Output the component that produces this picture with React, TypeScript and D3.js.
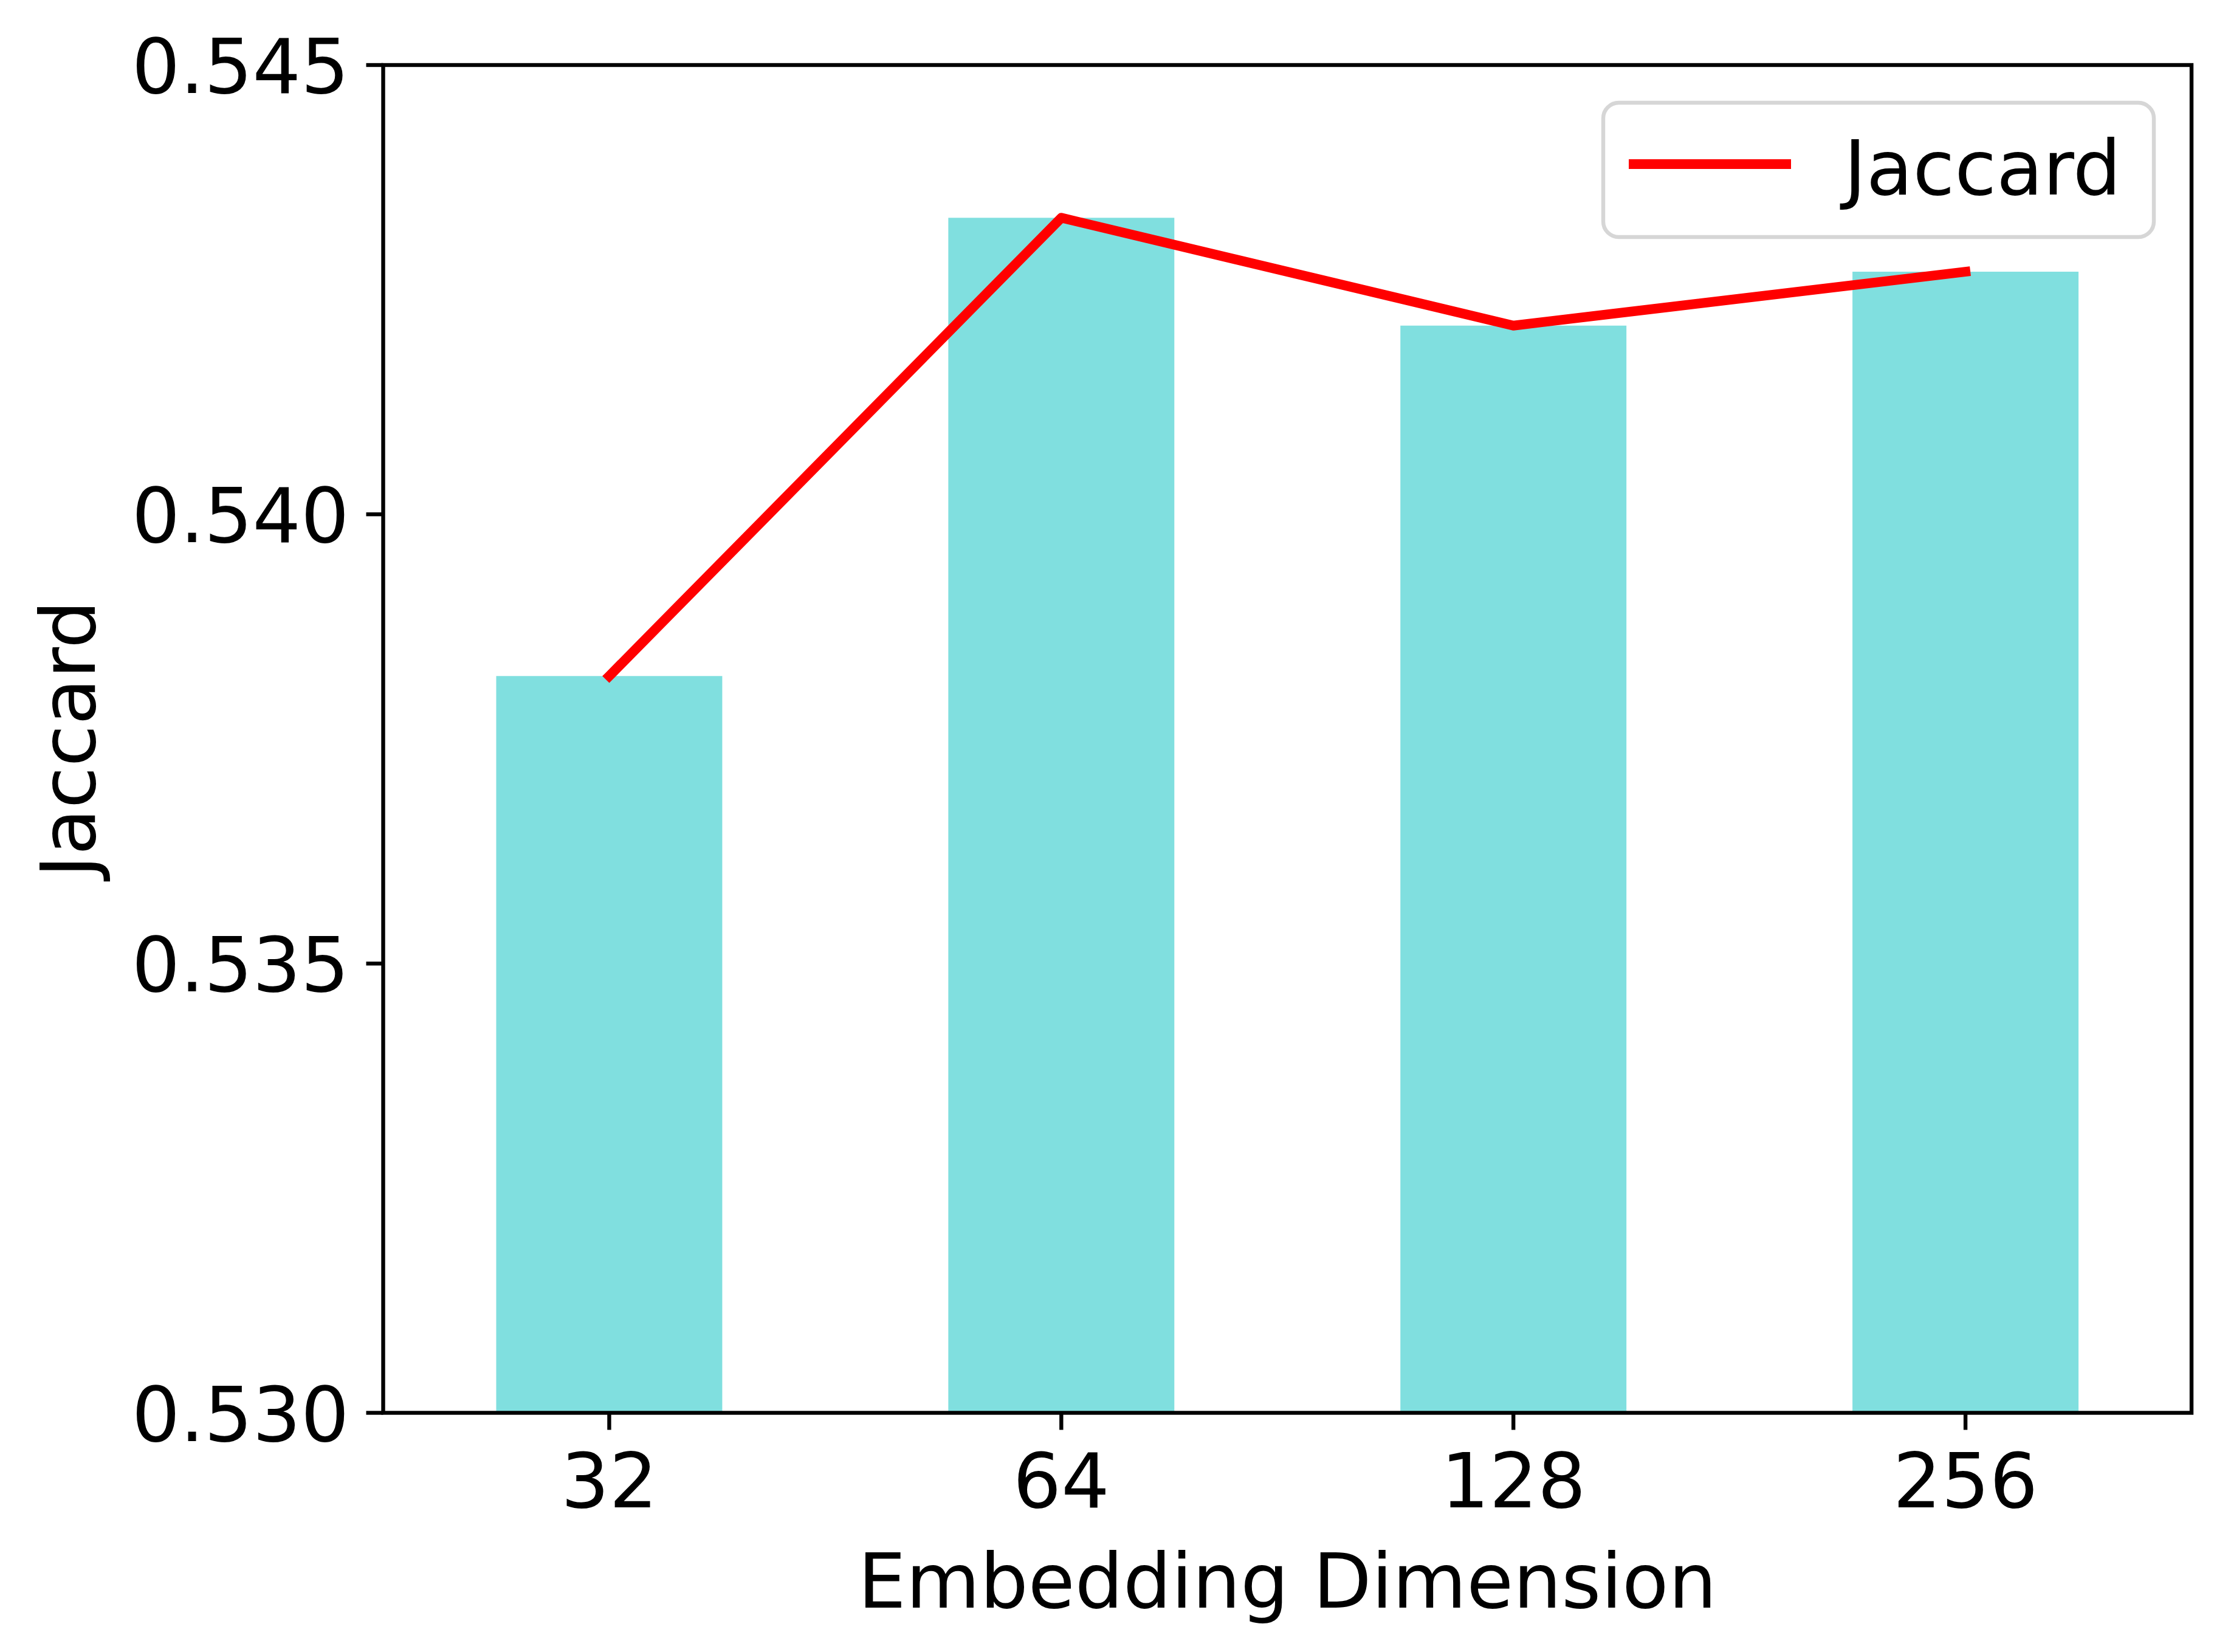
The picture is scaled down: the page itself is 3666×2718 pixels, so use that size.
import React from "react";
import * as d3 from "d3";

// embedding dimension vs jaccard score
const dims = ["32", "64", "128", "256"];
const jaccard = [0.5382, 0.5433, 0.5421, 0.5427];
const yTicks = [0.53, 0.535, 0.54, 0.545];
const legendLabel = "Jaccard";

const W = 3666;
const H = 2718;
const margin = { top: 107, right: 60, bottom: 393.5, left: 630.5 };
const FONT = "'DejaVu Sans', sans-serif";
const FS = 125;

const App: React.FC = () => {
	const x0 = margin.left;
	const x1 = W - margin.right;
	const yTop = margin.top;
	const yBot = H - margin.bottom;

	const xScale = d3.scaleBand<string>().domain(dims).range([x0, x1]).paddingInner(0.5).paddingOuter(0.25);
	const yScale = d3.scaleLinear().domain([0.53, 0.545]).range([yBot, yTop]);
	const fmt = d3.format(".3f");
	const cx = (d: string) => (xScale(d) || 0) + xScale.bandwidth() / 2;

	const line = d3
		.line<number>()
		.x((_, i) => cx(dims[i]))
		.y((v) => yScale(v));

	const tickLen = 28;
	const lw = 6.4;

	// legend box
	const lg = { x: 2638, y: 169, w: 906, h: 221 };

	return (
		<svg width={W} height={H} style={{ position: "absolute", left: 0, top: 0, background: "#fff" }} fontFamily={FONT}>
			<rect x={0} y={0} width={W} height={H} fill="#fff" />

			{/* bars */}
			{dims.map((d, i) => (
				<rect
					key={d}
					x={xScale(d)}
					y={yScale(jaccard[i])}
					width={xScale.bandwidth()}
					height={yBot - yScale(jaccard[i])}
					fill="#80dfdf"
				/>
			))}

			{/* line */}
			<path d={line(jaccard) || ""} fill="none" stroke="#ff0000" strokeWidth={16} strokeLinecap="square" strokeLinejoin="round" />

			{/* spines */}
			<rect x={x0} y={yTop} width={x1 - x0} height={yBot - yTop} fill="none" stroke="#000" strokeWidth={lw} />

			{/* y axis */}
			{yTicks.map((t) => (
				<g key={t}>
					<line x1={x0 - tickLen} x2={x0} y1={yScale(t)} y2={yScale(t)} stroke="#000" strokeWidth={lw} />
					<text x={x0 - tickLen - 28} y={yScale(t) + 46} fontSize={FS} textAnchor="end" fill="#000">
						{fmt(t)}
					</text>
				</g>
			))}

			{/* x axis */}
			{dims.map((d) => (
				<g key={d}>
					<line x1={cx(d)} x2={cx(d)} y1={yBot} y2={yBot + tickLen} stroke="#000" strokeWidth={lw} />
					<text x={cx(d)} y={yBot + 155.5} fontSize={FS} textAnchor="middle" fill="#000">
						{d}
					</text>
				</g>
			))}

			<text x={(x0 + x1) / 2} y={2645} fontSize={FS} textAnchor="middle" fill="#000">
				Embedding Dimension
			</text>
			<text transform={`translate(156, ${(yTop + yBot) / 2}) rotate(-90)`} fontSize={FS} textAnchor="middle" fill="#000">
				Jaccard
			</text>

			{/* legend */}
			<rect x={lg.x} y={lg.y} width={lg.w} height={lg.h} rx={25.6} fill="#fff" fillOpacity={0.8} stroke="#d6d6d6" strokeWidth={lw} />
			<line x1={2688} x2={2939} y1={270} y2={270} stroke="#ff0000" strokeWidth={16} strokeLinecap="square" />
			<text x={3034} y={320} fontSize={FS} fill="#000">
				{legendLabel}
			</text>
		</svg>
	);
};

export default App;
